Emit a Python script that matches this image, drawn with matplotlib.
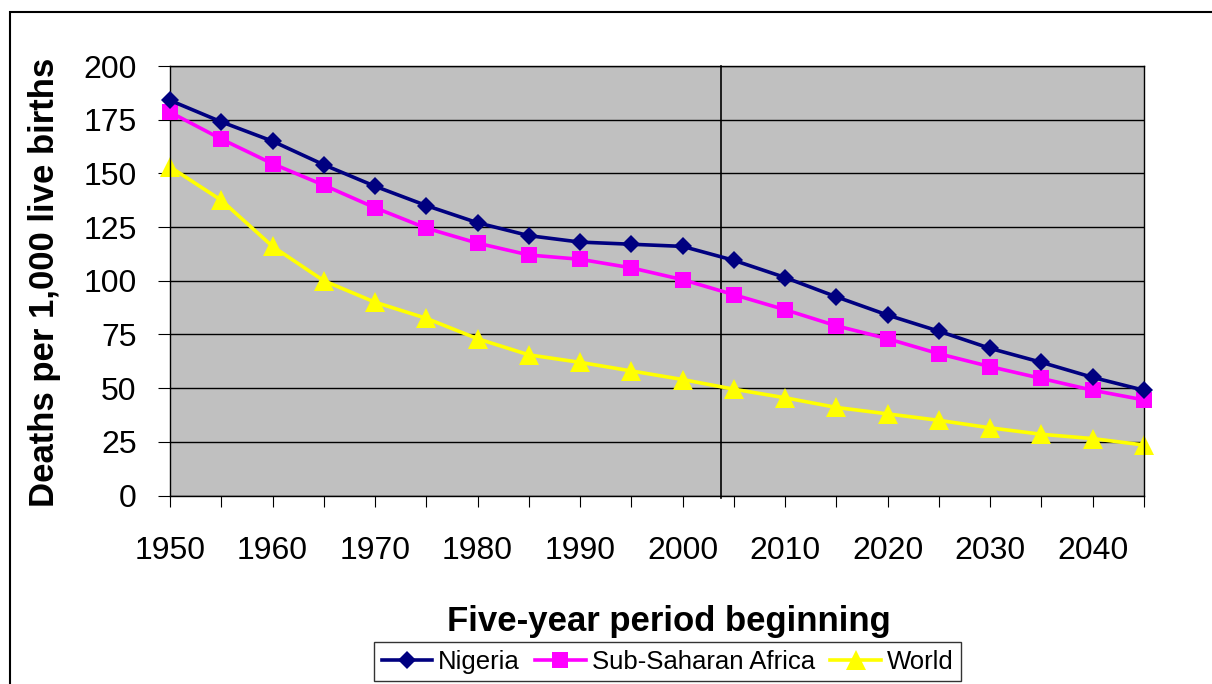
import matplotlib
matplotlib.use("Agg")
import matplotlib.pyplot as plt
from matplotlib.patches import Rectangle

plt.rcParams['font.family'] = ['Liberation Sans', 'DejaVu Sans']

# Under-five mortality, deaths per 1,000 live births, by five-year period
years = [1950, 1955, 1960, 1965, 1970, 1975, 1980, 1985, 1990, 1995,
         2000, 2005, 2010, 2015, 2020, 2025, 2030, 2035, 2040, 2045]
nigeria = [184, 174, 165, 154, 144, 135, 127, 121, 118, 117,
           116, 109.5, 101.5, 92.5, 84, 76.5, 68.5, 62, 55, 49]
ssa = [178.5, 166, 154.5, 144.5, 134, 124.5, 117.5, 112, 110, 106,
       100.5, 93.5, 86.5, 79, 73, 66, 60, 54.5, 49, 44.5]
world = [153, 137.5, 116, 100, 90, 82.5, 73, 65.5, 62, 58,
         54, 49.5, 45.5, 41, 38, 35, 31.5, 28.5, 26.5, 23.5]
x_tick_labels = [1950, 1960, 1970, 1980, 1990, 2000, 2010, 2020, 2030, 2040]
y_ticks = [0, 25, 50, 75, 100, 125, 150, 175, 200]
present_year = 2003.75

W, H = 1212, 684
fig = plt.figure(figsize=(W / 100, H / 100), dpi=100)
fig.patch.set_facecolor('white')

# chart frame (runs off the right and bottom edges)
fig.patches.append(Rectangle((10 / W, -0.1), 1.2, 1 - 12 / H + 0.1,
                             transform=fig.transFigure, fill=False,
                             edgecolor='black', linewidth=1.5, zorder=0))

left, right, top, bottom = 170, 1144, 66, 495.5
ax = fig.add_axes([left / W, 1 - bottom / H, (right - left) / W, (bottom - top) / H])
ax.set_facecolor('#C0C0C0')

ax.set_xlim(1950, 2045)
ax.set_ylim(0, 200)

for y in y_ticks:
    ax.axhline(y, color='black', linewidth=1.0, zorder=1)
ax.axvline(present_year, ymin=-0.005, ymax=1, color='black', linewidth=1.2,
           zorder=1, clip_on=False)

ax.plot(years, nigeria, color='#000080', linewidth=2.6, marker='D',
        markersize=9.5, markeredgewidth=0, label='Nigeria', zorder=4, clip_on=False)
ax.plot(years, ssa, color='#FF00FF', linewidth=2.6, marker='s',
        markersize=12, markeredgewidth=0, label='Sub-Saharan Africa', zorder=3, clip_on=False)
ax.plot(years, world, color='#FFFF00', linewidth=2.6, marker='^',
        markersize=14, markeredgewidth=0, label='World', zorder=2, clip_on=False)

for s in ax.spines.values():
    s.set_color('black')
    s.set_linewidth(1.0)

ax.set_xticks(years, minor=False)
ax.set_xticklabels([str(y) if y in x_tick_labels else '' for y in years])
ax.set_yticks(y_ticks)
ax.tick_params(axis='x', direction='out', length=8, width=0.8, pad=21,
               labelsize=23, colors='black')
ax.tick_params(axis='y', direction='out', length=9, width=0.8, pad=15,
               labelsize=23, colors='black')

fig.text(668.5 / W, 1 - 622 / H, 'Five-year period beginning', ha='center',
         va='center', fontsize=25, fontweight='bold')
fig.text(45 / W, 1 - 282.5 / H, 'Deaths per 1,000 live births', ha='center',
         va='center', rotation=90, fontsize=25, fontweight='bold')

leg = fig.legend(loc='upper left', bbox_to_anchor=(374 / W, 1 - 642 / H),
                 ncol=3, fontsize=18.5, frameon=True, fancybox=False,
                 edgecolor='black', handlelength=1.95, handletextpad=0.25,
                 columnspacing=0.6, borderpad=0.3, borderaxespad=0)
leg.get_frame().set_linewidth(1.0)

fig.savefig('out.png', dpi=100, facecolor='white')
